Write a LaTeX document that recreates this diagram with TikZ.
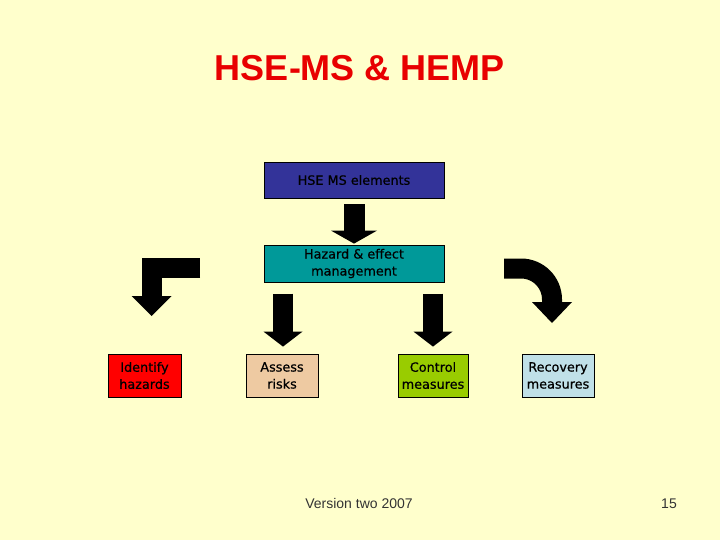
\documentclass[tikz,border=0pt]{standalone}
\usepackage{fontspec}
\setmainfont{Liberation Sans}
\newfontfamily\boxfont[FakeBold=0.6]{DejaVu Sans}
\usepackage{xcolor}
\usetikzlibrary{
    arrows.meta,
    positioning,
    calc
}
\definecolor{slidebg}{RGB}{255,255,204}
\definecolor{titlered}{RGB}{232,0,0}
\definecolor{msblue}{RGB}{51,51,153}
\definecolor{hemteal}{RGB}{0,153,153}
\definecolor{assesstan}{RGB}{238,202,162}
\definecolor{controlgreen}{RGB}{153,204,0}
\definecolor{recoveryblue}{RGB}{192,224,232}

\begin{document}
\begin{tikzpicture}[x=1pt, y=-1pt, text-node/.style={
                rectangle, draw=black, line width=0.8pt, text=black, align=center, inner sep=0pt,
                minimum height=43pt, font=\boxfont\fontsize{12.8}{17}\selectfont},
                fat-arrow/.style={draw=black, line width=21pt,
                -{Triangle[width=46pt, length=13pt, line width=0pt]}},
                bent-arrow/.style={draw=black, line width=20pt, line join=miter,
                -{Triangle[width=40pt, length=20pt, line width=0pt]}}]
                % slide background
                \fill [slidebg] (0,0) rectangle (720,540);
                \node [anchor=base, text=titlered, font=\bfseries\fontsize{36}{40}\selectfont] (title) at (360,81) {HSE-MS \& HEMP};
                % top chain
                \node [text-node, fill=msblue, minimum width=180pt, minimum height=36pt] (elements) at (354,180) {HSE MS elements};
                \node [text-node, fill=hemteal, minimum width=180pt, minimum height=37pt] (hem) at (354,263.5) {Hazard \& effect\\ management};
                % the four steps
                \node [text-node, fill=red, minimum width=73pt] (identify) at (144.5,375.5) {Identify\\ hazards};
                \node [text-node, fill=assesstan, minimum width=72pt] (assess) at (282,375.5) {Assess\\ risks};
                \node [text-node, fill=controlgreen, minimum width=70pt] (control) at (433,375.5) {Control\\ measures};
                \node [text-node, fill=recoveryblue, minimum width=72pt] (recovery) at (558,375.5) {Recovery\\ measures};
                % block arrows
                \draw [fat-arrow, shorten >=1pt] ($(elements.south)+(0,6)$) -- (hem.north);
                \draw [fat-arrow, line width=20pt, -{Triangle[width=39pt, length=15pt, line width=0pt]}, shorten >=7pt] ($(assess.north)+(1,-60)$) -- ($(assess.north)+(1,0)$);
                \draw [fat-arrow, line width=20pt, -{Triangle[width=39pt, length=15pt, line width=0pt]}, shorten >=7pt] ($(control.north)+(0,-60)$) -- (control.north);
                \coordinate (left-start) at (200,267.5);
                \coordinate (right-start) at (504,268.5);
                \draw [bent-arrow] (left-start) -- (151.5,267.5) -- (151.5,316);
                \draw [bent-arrow, -{Triangle[width=40pt, length=21pt, line width=0pt]}] (right-start) -- (521,268.5) arc (-90:0:31) -- (552,323);
                % footer
                \node [anchor=base, text=black!80, font=\fontsize{14}{16}\selectfont] (version) at (359,508) {Version two 2007};
                \node [anchor=base, text=black!80, font=\fontsize{14}{16}\selectfont] (page) at (669,508) {15};
            \end{tikzpicture}
\end{document}
